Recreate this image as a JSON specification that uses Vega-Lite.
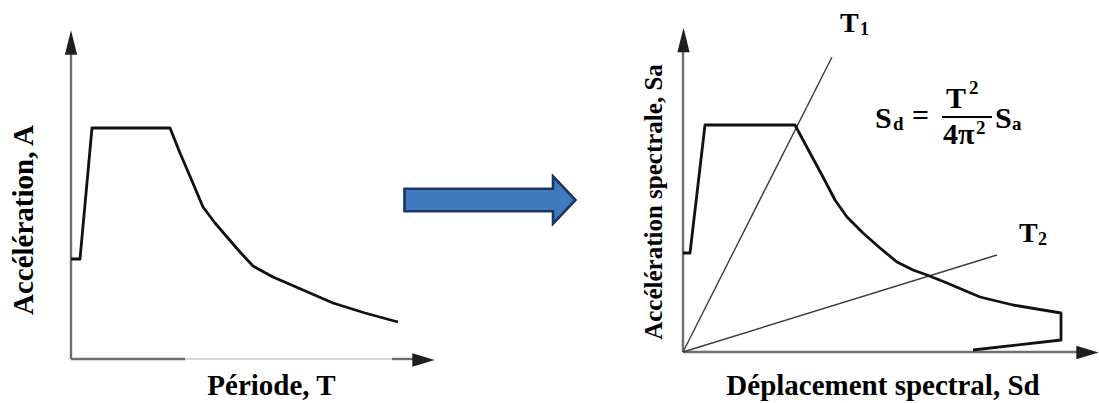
{
  "$schema": "https://vega.github.io/schema/vega-lite/v6.json",
  "width": 1099,
  "height": 403,
  "autosize": {"type": "fit", "contains": "padding"},
  "padding": 0,
  "background": "white",
  "config": {"view": {"stroke": null}},
  "datasets": {
    "axes": [
      {"id": "L-y", "i": 0, "x": 71, "y": 44}, {"id": "L-y", "i": 1, "x": 71, "y": 353},
      {"id": "L-x1", "i": 0, "x": 71, "y": 44}, {"id": "L-x1", "i": 1, "x": 185, "y": 44},
      {"id": "L-x2", "i": 0, "x": 392, "y": 44}, {"id": "L-x2", "i": 1, "x": 413, "y": 44},
      {"id": "R-y", "i": 0, "x": 683, "y": 51}, {"id": "R-y", "i": 1, "x": 683, "y": 358},
      {"id": "R-x", "i": 0, "x": 683, "y": 51}, {"id": "R-x", "i": 1, "x": 1078, "y": 51}
    ],
    "axis_faint": [
      {"i": 0, "x": 185, "y": 44}, {"i": 1, "x": 392, "y": 44}
    ],
    "arrow_up": [
      {"x": 71, "y": 360.5}, {"x": 683.5, "y": 363}
    ],
    "arrow_right": [
      {"x": 423.5, "y": 43}, {"x": 1087.5, "y": 50.5}
    ],
    "spectra": [
      {"id": "A", "i": 0, "x": 71, "y": 144}, {"id": "A", "i": 1, "x": 80, "y": 144},
      {"id": "A", "i": 2, "x": 92, "y": 275}, {"id": "A", "i": 3, "x": 170, "y": 275},
      {"id": "A", "i": 4, "x": 180, "y": 250}, {"id": "A", "i": 5, "x": 192, "y": 222},
      {"id": "A", "i": 6, "x": 203, "y": 196}, {"id": "A", "i": 7, "x": 215, "y": 180},
      {"id": "A", "i": 8, "x": 227, "y": 166}, {"id": "A", "i": 9, "x": 240, "y": 151},
      {"id": "A", "i": 10, "x": 253, "y": 137}, {"id": "A", "i": 11, "x": 273, "y": 126},
      {"id": "A", "i": 12, "x": 303, "y": 113}, {"id": "A", "i": 13, "x": 333, "y": 100},
      {"id": "A", "i": 14, "x": 365, "y": 90}, {"id": "A", "i": 15, "x": 398, "y": 81},
      {"id": "Sa", "i": 0, "x": 683, "y": 150}, {"id": "Sa", "i": 1, "x": 690, "y": 150},
      {"id": "Sa", "i": 2, "x": 705, "y": 278}, {"id": "Sa", "i": 3, "x": 795, "y": 278},
      {"id": "Sa", "i": 4, "x": 810, "y": 250}, {"id": "Sa", "i": 5, "x": 823, "y": 226},
      {"id": "Sa", "i": 6, "x": 835, "y": 203}, {"id": "Sa", "i": 7, "x": 847, "y": 186},
      {"id": "Sa", "i": 8, "x": 863, "y": 170}, {"id": "Sa", "i": 9, "x": 880, "y": 155},
      {"id": "Sa", "i": 10, "x": 897, "y": 141}, {"id": "Sa", "i": 11, "x": 913, "y": 133},
      {"id": "Sa", "i": 12, "x": 927, "y": 128}, {"id": "Sa", "i": 13, "x": 947, "y": 120},
      {"id": "Sa", "i": 14, "x": 980, "y": 106}, {"id": "Sa", "i": 15, "x": 1013, "y": 98},
      {"id": "Sa", "i": 16, "x": 1061, "y": 90}, {"id": "Sa", "i": 17, "x": 1061, "y": 63},
      {"id": "Sa", "i": 18, "x": 973, "y": 53}
    ],
    "periods": [
      {"id": "T1", "i": 0, "x": 683, "y": 51}, {"id": "T1", "i": 1, "x": 832, "y": 346},
      {"id": "T2", "i": 0, "x": 683, "y": 51}, {"id": "T2", "i": 1, "x": 997, "y": 148}
    ],
    "transition": [
      {"x": 490, "y": 203}
    ],
    "fraction_bar": [
      {"i": 0, "x": 942, "y": 286}, {"i": 1, "x": 992, "y": 286}
    ],
    "titles_h": [
      {"x": 271.5, "y": 8, "t": "Période, T"},
      {"x": 883, "y": 8, "t": "Déplacement spectral, Sd"}
    ],
    "title_left_v": [
      {"x": 33, "y": 183, "t": "Accélération, A"}
    ],
    "title_right_v": [
      {"x": 662, "y": 201, "t": "Accélération spectrale, Sa"}
    ],
    "period_names": [
      {"x": 840, "y": 371, "t": "T"}, {"x": 1019, "y": 161, "t": "T"}
    ],
    "period_index": [
      {"x": 860, "y": 368, "t": "1"}, {"x": 1038, "y": 158, "t": "2"}
    ],
    "formula_main": [
      {"x": 875, "y": 275, "t": "S"},
      {"x": 912, "y": 278, "t": "="},
      {"x": 946, "y": 295, "t": "T"},
      {"x": 943, "y": 259, "t": "4π"},
      {"x": 995, "y": 275, "t": "S"}
    ],
    "formula_small": [
      {"x": 893, "y": 273, "t": "d"},
      {"x": 969, "y": 309, "t": "2"},
      {"x": 976, "y": 269, "t": "2"},
      {"x": 1012, "y": 273, "t": "a"}
    ]
  },
  "encoding": {
    "x": {"field": "x", "type": "quantitative", "scale": {"domain": [0, 1099], "nice": false, "zero": false}, "axis": null},
    "y": {"field": "y", "type": "quantitative", "scale": {"domain": [0, 403], "nice": false, "zero": false}, "axis": null}
  },
  "layer": [
    {
      "data": {"name": "axis_faint"},
      "mark": {"type": "line", "color": "#b0b0b0", "strokeWidth": 1},
      "encoding": {"order": {"field": "i", "type": "quantitative"}}
    },
    {
      "data": {"name": "axes"},
      "mark": {"type": "line", "color": "#6e6e6e", "strokeWidth": 2.4},
      "encoding": {"detail": {"field": "id"}, "order": {"field": "i", "type": "quantitative"}}
    },
    {
      "data": {"name": "periods"},
      "mark": {"type": "line", "color": "#3c3c3c", "strokeWidth": 1.4},
      "encoding": {"detail": {"field": "id"}, "order": {"field": "i", "type": "quantitative"}}
    },
    {
      "data": {"name": "spectra"},
      "mark": {"type": "line", "color": "#111111", "strokeWidth": 2.8, "strokeJoin": "round"},
      "encoding": {"detail": {"field": "id"}, "order": {"field": "i", "type": "quantitative"}}
    },
    {
      "data": {"name": "arrow_up"},
      "mark": {"type": "point", "shape": "M0,-1L0.5,1L-0.5,1Z", "size": 600, "filled": true, "fill": "#1e1e1e", "opacity": 1, "strokeWidth": 0}
    },
    {
      "data": {"name": "arrow_right"},
      "mark": {"type": "point", "shape": "M1,0L-1,0.6L-1,-0.6Z", "size": 500, "filled": true, "fill": "#1e1e1e", "opacity": 1, "strokeWidth": 0}
    },
    {
      "data": {"name": "transition"},
      "mark": {"type": "point", "shape": "M-1,-0.132L0.737,-0.132L0.737,-0.278L1,0L0.737,0.278L0.737,0.132L-1,0.132Z", "size": 29241, "filled": true, "fill": "#4178be", "stroke": "#1c355e", "strokeWidth": 2.6, "strokeJoin": "miter", "opacity": 1}
    },
    {
      "data": {"name": "fraction_bar"},
      "mark": {"type": "line", "color": "#000000", "strokeWidth": 2.2},
      "encoding": {"order": {"field": "i", "type": "quantitative"}}
    },
    {
      "data": {"name": "titles_h"},
      "mark": {"type": "text", "font": "Liberation Serif", "fontWeight": "bold", "fontSize": 29, "align": "center", "baseline": "alphabetic", "color": "#000000"},
      "encoding": {"text": {"field": "t"}}
    },
    {
      "data": {"name": "title_left_v"},
      "mark": {"type": "text", "font": "Liberation Serif", "fontWeight": "bold", "fontSize": 29, "angle": 270, "align": "center", "baseline": "alphabetic", "color": "#000000"},
      "encoding": {"text": {"field": "t"}}
    },
    {
      "data": {"name": "title_right_v"},
      "mark": {"type": "text", "font": "Liberation Serif", "fontWeight": "bold", "fontSize": 25, "angle": 270, "align": "center", "baseline": "alphabetic", "color": "#000000"},
      "encoding": {"text": {"field": "t"}}
    },
    {
      "data": {"name": "period_names"},
      "mark": {"type": "text", "font": "Liberation Serif", "fontWeight": "bold", "fontSize": 28, "align": "left", "baseline": "alphabetic", "color": "#000000"},
      "encoding": {"text": {"field": "t"}}
    },
    {
      "data": {"name": "period_index"},
      "mark": {"type": "text", "font": "Liberation Serif", "fontWeight": "bold", "fontSize": 18, "align": "left", "baseline": "alphabetic", "color": "#000000"},
      "encoding": {"text": {"field": "t"}}
    },
    {
      "data": {"name": "formula_main"},
      "mark": {"type": "text", "font": "Liberation Serif", "fontWeight": "bold", "fontSize": 30, "align": "left", "baseline": "alphabetic", "color": "#000000"},
      "encoding": {"text": {"field": "t"}}
    },
    {
      "data": {"name": "formula_small"},
      "mark": {"type": "text", "font": "Liberation Serif", "fontWeight": "bold", "fontSize": 19, "align": "left", "baseline": "alphabetic", "color": "#000000"},
      "encoding": {"text": {"field": "t"}}
    }
  ]
}
